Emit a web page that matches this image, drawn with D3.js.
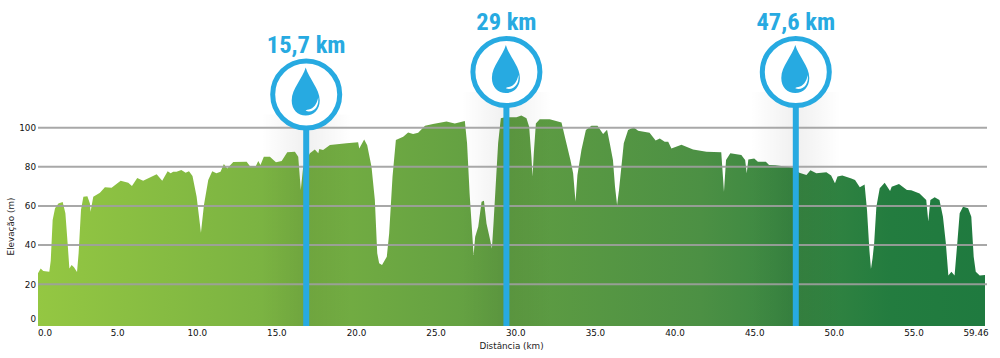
<!DOCTYPE html>
<html><head><meta charset="utf-8">
<script src="https://cdn.jsdelivr.net/npm/d3@7/dist/d3.min.js"></script>
<style>html,body{margin:0;padding:0;background:#fff}svg{display:block}</style>
</head><body><svg id="c" width="1000" height="358"></svg>
<script>
const distance=[0,.17,.33,.71,.8,.92,1.07,1.28,1.55,1.72,1.86,1.97,2.11,2.26,2.45,2.55,2.7,2.85,3.1,3.26,3.3,3.47,3.89,4.2,4.62,5.19,5.67,5.9,6.23,6.6,7.45,7.8,8.14,8.33,8.49,8.7,9.0,9.27,9.48,9.7,9.96,10.23,10.42,10.69,10.94,11.2,11.46,11.67,11.88,12.26,13.1,13.3,13.68,13.83,13.97,14.18,14.56,14.94,15.3,15.65,16.13,16.34,16.5,16.65,17.07,17.38,17.6,17.66,17.9,18.33,19.37,20.1,20.17,20.48,20.67,20.94,21.15,21.3,21.42,21.6,21.9,22.05,22.26,22.47,22.93,23.24,23.55,23.87,24.3,24.8,25.65,26.17,26.8,26.94,27.1,27.35,27.45,27.64,27.85,28.0,28.16,28.37,28.5,28.6,28.89,29.06,29.31,30.04,30.35,30.67,30.84,30.98,31.05,31.13,31.26,31.5,32.13,32.87,33.08,33.43,33.6,33.75,33.87,34.12,34.4,34.75,35.13,35.48,35.73,35.9,36.1,36.23,36.36,36.48,36.78,37.05,37.4,37.68,38.4,38.78,39.04,39.35,39.57,39.77,40.4,41.13,41.97,42.9,43.07,43.2,43.47,44.16,44.4,44.5,44.6,44.97,45.2,45.7,45.9,46.3,47.4,47.8,48.25,48.5,48.87,49.5,49.8,50.04,50.2,50.5,51.07,51.3,51.6,51.9,52.05,52.2,52.3,52.4,52.5,52.64,52.85,53.16,53.5,53.6,54.06,54.56,54.83,55.35,55.77,55.9,56.03,56.3,56.6,56.82,57,57.16,57.35,57.55,57.72,57.87,58.08,58.4,58.6,58.75,58.88,59.13,59.46];
const elevation=[25.6,28,26.7,26.4,32,52.8,58.8,61.3,62,56.2,40.9,28,29.8,28.6,26.2,35.8,58,64.7,65,61.3,57,64.7,66.8,69.5,69.3,72.9,71.9,70.2,74.3,72.9,76.2,72.9,77.7,76.7,77.5,77.5,78.4,77,77.7,75.3,64.7,46.3,60.5,73.3,77.7,76.7,77.5,81.4,79.2,82.5,82.6,80.4,80.4,83,80.9,85.2,85.2,82.3,83,87.4,87.7,85.2,68.1,80,86.9,88.9,86.9,89.1,88.6,91.1,92,92.5,89.4,94,91,80,63,35.8,30.7,29.8,34,46,75,93.7,95.4,97.6,96.8,97.4,101,101.9,103.2,102.2,103.4,92,66.4,34.9,44.3,49.4,62.2,62.7,51,43.4,38.3,51,92,104.8,105.3,105.3,106.3,104.8,100.5,85.2,75,86.9,102.2,104.3,104.3,102.6,95.4,83.5,76.7,62.2,75.8,88.6,98.8,101,101,96.8,99,92,83.5,69.8,60.5,68.1,92,98.8,100.2,98.5,97.4,93.4,94.5,92.8,92.8,89.4,91.3,88.9,87.7,87.4,67.3,83.5,86.9,86,83.5,76.7,83.8,84.3,82.6,82.6,80.9,80.8,79.7,77,75.8,78.2,76.7,77.2,75.5,71.6,75,75.6,74,73.3,69.5,70.9,58,37.5,27.8,33.2,40.9,59.6,69,71.9,67.6,69.8,71.2,68.1,68,66.4,63,52,63,64.4,63,54.5,41,24.4,26.4,24.4,41,56.2,59.6,58.8,54.5,34,26.4,24.4,24.7];
const xTickValues=[0,5,10,15,20,25,30,35,40,45,50,55,59.46];
const xTickLabels=["0.0","5.0","10.0","15.0","20.0","25.0","30.0","35.0","40.0","45.0","50.0","55.0","59.46"];
const yTickValues=[0,20,40,60,80,100];
const markerPositions=[16.84,29.41,47.58];
const markerLabels=["15,7 km","29 km","47,6 km"];
const markerTops=[94.5,72,72];

const svg=d3.select("#c");
const x=d3.scaleLinear().domain([0,59.46]).range([38,985]);
const y=d3.scaleLinear().domain([0,100]).range([323.3,127.7]);
const base=326;
const font="'DejaVu Sans',Verdana,sans-serif";
const defs=svg.append("defs");
const g=defs.append("linearGradient").attr("id","fill").attr("x1","0").attr("x2","1").attr("y1","0").attr("y2","0");
[[0,"#94c742"],[.5,"#5f9d42"],[.7,"#4c9044"],[.9,"#237c3f"],[1,"#1f7a3f"]].forEach(s=>g.append("stop").attr("offset",s[0]).attr("stop-color",s[1]));
const sh=defs.append("linearGradient").attr("id","haze").attr("x1","0").attr("x2","1").attr("y1","0").attr("y2","0");
sh.append("stop").attr("offset","0").attr("stop-color","#000").attr("stop-opacity",0);
sh.append("stop").attr("offset","0.5").attr("stop-color","#000").attr("stop-opacity",0.06);
sh.append("stop").attr("offset","1").attr("stop-color","#000").attr("stop-opacity",0);

const pts=distance.map((d,i)=>[d,elevation[i]]);
const area=d3.area().x(d=>x(d[0])).y0(base).y1(d=>y(d[1]));
svg.append("path").datum(pts).attr("d",area).attr("fill","url(#fill)");

markerPositions.forEach((m,i)=>{
  svg.append("rect").attr("x",x(m)-45).attr("width",90).attr("y",markerTops[i]+20).attr("height",base-markerTops[i]-20).attr("fill","url(#haze)");
});

svg.append("g").selectAll("line").data(yTickValues.filter(d=>d>0)).join("line")
  .attr("x1",38).attr("x2",987).attr("y1",d=>y(d)).attr("y2",d=>y(d))
  .attr("stroke","#9f9f9f").attr("stroke-opacity",.9).attr("stroke-width",2);

const yOffset=new Map([[0,-4.5],[20,1],[40,0],[60,0],[80,0],[100,0]]);
svg.append("g").selectAll("text").data(yTickValues).join("text")
  .attr("x",36).attr("y",d=>y(d)+yOffset.get(d)+3)
  .attr("text-anchor","end").attr("font-family",font).attr("font-size",8.8).attr("fill","#111").text(d=>d);
const xShift=new Map([[0,7],[59.46,-9]]);
svg.append("g").selectAll("text").data(xTickValues).join("text")
  .attr("x",d=>x(d)+(xShift.get(d)||0)).attr("y",336)
  .attr("text-anchor","middle").attr("font-family",font).attr("font-size",8.8).attr("fill","#111")
  .text((d,i)=>xTickLabels[i]);
svg.append("text").attr("x",511.5).attr("y",349).attr("text-anchor","middle").attr("font-family",font).attr("font-size",8.8).attr("fill","#222").text("Distância (km)");
svg.append("text").attr("transform","translate(14,226.5) rotate(-90)").attr("text-anchor","middle").attr("font-family",font).attr("font-size",8.8).attr("fill","#222").text("Elevação (m)");

const blue="#27aae1";
const drop="M0,-24 C3,-13 14,-3 14,9 C14,18 8,24 0,24 C-8,24 -14,18 -14,9 C-14,-3 -3,-13 0,-24Z";
const shine="M3,18 C8,17 11,13 12.5,6 C13.5,13 10,20 3,20 C1,20 0,19 0,19 C1,18.5 2,18 3,18Z";
markerPositions.forEach((m,i)=>{
  const cx=x(m), cy=markerTops[i];
  svg.append("rect").attr("x",cx-3).attr("width",6).attr("y",cy+30).attr("height",base-cy-30).attr("fill",blue);
  svg.append("circle").attr("cx",cx).attr("cy",cy).attr("r",33.5).attr("fill","#fff").attr("stroke",blue).attr("stroke-width",5);
  const d=svg.append("g").attr("transform",`translate(${cx-0.5},${cy-3})`);
  d.append("path").attr("d",drop).attr("fill",blue);
  d.append("path").attr("d",shine).attr("fill","#fff");
  svg.append("text").attr("x",cx).attr("y",cy-42).attr("text-anchor","middle")
    .attr("font-family","'Liberation Sans Narrow','Roboto Condensed','Liberation Sans',sans-serif")
    .attr("font-weight","bold").attr("font-size",24.5).attr("fill",blue).text(markerLabels[i]);
});
</script></body></html>
